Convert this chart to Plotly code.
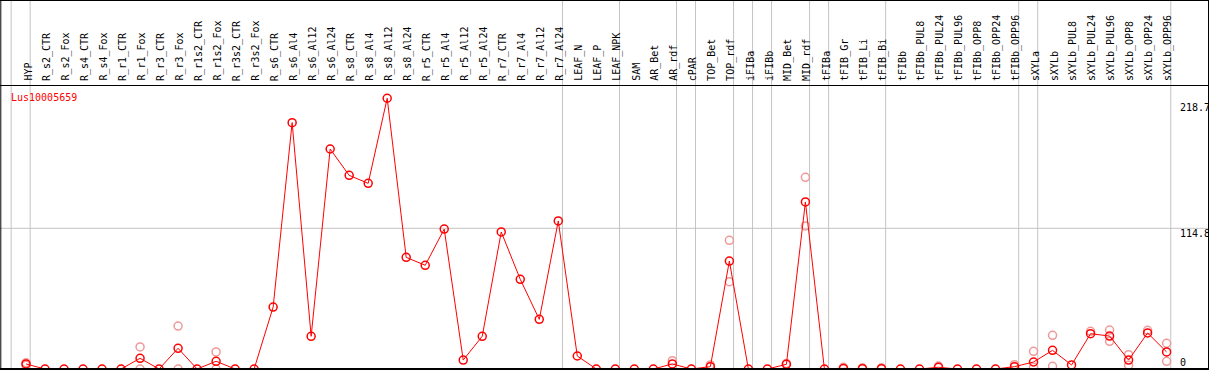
import plotly.graph_objects as go

title = "Lus10005659"
categories = ["HYP", "R_s2_CTR", "R_s2_Fox", "R_s4_CTR", "R_s4_Fox", "R_r1_CTR", "R_r1_Fox",
              "R_r3_CTR", "R_r3_Fox", "R_r1s2_CTR", "R_r1s2_Fox", "R_r3s2_CTR", "R_r3s2_Fox",
              "R_s6_CTR", "R_s6_Al4", "R_s6_Al12", "R_s6_Al24", "R_s8_CTR", "R_s8_Al4",
              "R_s8_Al12", "R_s8_Al24", "R_r5_CTR", "R_r5_Al4", "R_r5_Al12", "R_r5_Al24",
              "R_r7_CTR", "R_r7_Al4", "R_r7_Al12", "R_r7_Al24", "LEAF_N", "LEAF_P", "LEAF_NPK",
              "SAM", "AR_Bet", "AR_rdf", "cPAR", "TOP_Bet", "TOP_rdf", "iFIBa", "iFIBb",
              "MID_Bet", "MID_rdf", "tFIBa", "tFIB_Gr", "tFIB_Li", "tFIB_Bi", "tFIBb",
              "tFIBb_PUL8", "tFIBb_PUL24", "tFIBb_PUL96", "tFIBb_OPP8", "tFIBb_OPP24",
              "tFIBb_OPP96", "sXYLa", "sXYLb", "sXYLb_PUL8", "sXYLb_PUL24", "sXYLb_PUL96",
              "sXYLb_OPP8", "sXYLb_OPP24", "sXYLb_OPP96"]

mean_values = [4.1, 0, 0, 0, 0, 0, 8.7, 0, 16.9, 0, 6.3, 0, 0,
               50.5, 201.0, 26.7, 179.5, 158.0, 151.5, 220.9, 91.1, 84.6, 114.2, 7.3, 26.7,
               111.8, 73.2, 40.5, 120.8, 10.6, 0, 0, 0, 0, 4.1, 0, 1.9, 88.1, 0, 0,
               3.8, 136.3, 0, 0.5, 0.3, 0.3, 0, 0, 1.4, 0, 0, 0, 1.9,
               5.7, 15.2, 3.3, 28.8, 26.9, 7.3, 29.4, 13.9]

rep_categories = ["HYP", "HYP", "R_r1_Fox", "R_r1_Fox", "R_r3_Fox", "R_r3_Fox",
                  "R_r1s2_Fox", "R_r1s2_Fox", "AR_rdf", "TOP_Bet", "TOP_rdf", "TOP_rdf",
                  "MID_Bet", "MID_rdf", "MID_rdf", "tFIB_Gr", "tFIB_Li", "tFIB_Bi",
                  "tFIBb_PUL24", "tFIBb_OPP96", "sXYLa", "sXYLa", "sXYLb", "sXYLb",
                  "sXYLb_PUL24", "sXYLb_PUL96", "sXYLb_PUL96", "sXYLb_OPP8", "sXYLb_OPP8",
                  "sXYLb_OPP24", "sXYLb_OPP96", "sXYLb_OPP96"]
rep_values = [5.1, 3.0, 18.0, 0, 35.0, 0, 13.9, 0, 6.8, 3.3, 105.0, 71.2,
              4.5, 156.4, 116.7, 1.4, 1.0, 1.0, 2.4, 3.5, 14.4, 1.4, 27.5, 2.2,
              30.7, 31.8, 22.6, 11.7, 3.0, 31.6, 21.0, 6.3]

group_ends = ["HYP", "R_r7_Al24", "LEAF_NPK", "AR_rdf", "cPAR", "TOP_rdf", "iFIBa", "iFIBb",
              "MID_rdf", "tFIBa", "tFIB_Bi", "tFIBb_OPP96", "sXYLa", "sXYLb_OPP96"]

grid_value = 114.8
axis_labels = ["218.7", "114.8", "0"]

W, H = 1209, 370
STEP = 19.01      # px per category
X0PX = 26.0       # px of first category
Y0PX = 369.0      # px of zero
YSCALE = (369.0 - 228.3) / 114.8  # px per unit

idx = {c: i for i, c in enumerate(categories)}
xr0 = -X0PX / STEP
xr1 = xr0 + W / STEP
yr0 = (Y0PX - H) / YSCALE
yr1 = Y0PX / YSCALE

def py2paper(py):
    return 1 - py / H

fig = go.Figure()
fig.add_trace(go.Scatter(
    x=[idx[c] for c in rep_categories], y=rep_values, mode="markers",
    marker=dict(symbol="circle-open", size=8, color="#EE9A9A", line=dict(width=1.5, color="#EE9A9A")),
    hoverinfo="skip", cliponaxis=False))
fig.add_trace(go.Scatter(
    x=list(range(len(categories))), y=mean_values, mode="lines+markers",
    line=dict(color="#FF0000", width=1),
    marker=dict(symbol="circle-open", size=8, color="#FF0000", line=dict(width=1.5, color="#FF0000")),
    cliponaxis=False))

shapes = []
line_gray = dict(color="#C4C4C4", width=1)
line_black = dict(color="#000000", width=1)
for g in [-1] + [idx[c] for c in group_ends]:
    shapes.append(dict(type="line", xref="x", yref="paper", x0=g + 0.22, x1=g + 0.22,
                       y0=py2paper(369), y1=1, line=line_gray, layer="below"))
shapes.append(dict(type="line", xref="paper", yref="y", x0=0, x1=1, y0=grid_value, y1=grid_value,
                   line=line_gray, layer="below"))
# frame
shapes.append(dict(type="line", xref="paper", yref="paper", x0=0, x1=1, y0=py2paper(0.5), y1=py2paper(0.5), line=line_black))
shapes.append(dict(type="line", xref="paper", yref="paper", x0=0, x1=1, y0=py2paper(85.5), y1=py2paper(85.5), line=line_black))
shapes.append(dict(type="line", xref="paper", yref="paper", x0=0, x1=1, y0=py2paper(369), y1=py2paper(369), line=dict(color="#000", width=2)))
shapes.append(dict(type="line", xref="paper", yref="paper", x0=0.8 / W, x1=0.8 / W, y0=0, y1=1, line=line_black))
shapes.append(dict(type="line", xref="paper", yref="paper", x0=1208.5 / W, x1=1208.5 / W, y0=0, y1=1, line=line_black))

font = dict(family="DejaVu Sans Mono", size=10, color="#000000")
annotations = []
for i, c in enumerate(categories):
    annotations.append(dict(x=i + 0.08, xref="x", y=py2paper(83), yref="paper", text=c,
                            textangle=-90, showarrow=False, xanchor="center", yanchor="bottom",
                            font=font))
annotations.append(dict(x=9 / W, xref="paper", y=py2paper(97), yref="paper", text=title,
                        showarrow=False, xanchor="left", yanchor="middle",
                        font=dict(family="DejaVu Sans Mono", size=10, color="#FF0000")))
for lab, py in zip(axis_labels, [107.5, 233, 362.5]):
    annotations.append(dict(x=1178 / W, xref="paper", y=py2paper(py), yref="paper", text=lab,
                            showarrow=False, xanchor="left", yanchor="middle", font=font))

fig.update_layout(
    width=W, height=H, margin=dict(l=0, r=0, t=0, b=0, pad=0),
    paper_bgcolor="white", plot_bgcolor="white", showlegend=False,
    xaxis=dict(range=[xr0, xr1], visible=False, fixedrange=True),
    yaxis=dict(range=[yr0, yr1], visible=False, fixedrange=True),
    shapes=shapes, annotations=annotations)

fig.write_html("out.html", config={"displayModeBar": False},
               post_script="document.body.style.margin='0';document.body.style.overflow='hidden';")
